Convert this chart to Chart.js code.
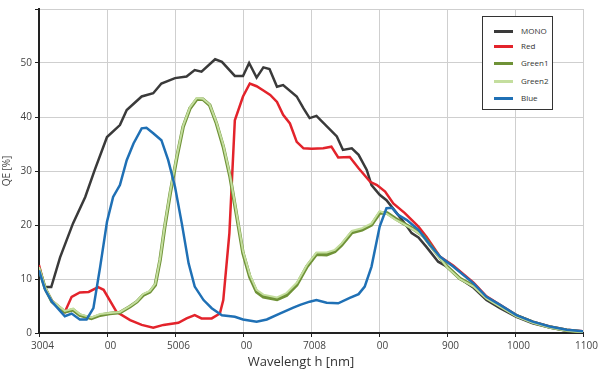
<!DOCTYPE html>
<html>
<head>
<meta charset="utf-8">
<script src="https://cdn.jsdelivr.net/npm/chart.js@4/dist/chart.umd.min.js"></script>
<style>
  body { margin: 0; background: #fff; font-family: "Open Sans", sans-serif; }
  #wrap { position: relative; width: 600px; height: 375px; }
  #legend { position: absolute; left: 482px; top: 16px; width: 69px; height: 92px;
            border: 1.5px solid #333; background: #fff; }
  .item { position: absolute; left: 0; height: 12px; font-size: 8px; color: #333; line-height: 12px; }
  .item span.sw { position: absolute; left: 11px; top: 5px; width: 19px; height: 3px; }
  .item span.tx { position: absolute; left: 38px; top: 0; white-space: nowrap; }
</style>
</head>
<body>
<div id="wrap">
  <canvas id="qe" width="600" height="375"></canvas>
  <div id="legend"></div>
</div>
<script>
// tick labels as printed under the x axis
var xTickLabels = ["3004", "00", "5006", "00", "7008", "00", "900", "1000", "1100"];
var xTickValues = [300, 400, 500, 600, 700, 800, 900, 1000, 1100];

var monoNm = [300,309,318,331,350,368,382,400,419,429,451,468,480,500,517,529,539,559,569,588,600,609,620,630,639,650,659,679,689,698,708,738,747,760,770,782,789,801,811,826,838,848,858,870,887,900,919,938,958,978,1002,1026,1051,1076,1100];
var monoQE = [11.7,8.5,8.5,14,20.3,25.2,30.2,36.3,38.5,41.3,43.8,44.4,46.2,47.2,47.5,48.7,48.4,50.7,50.2,47.6,47.6,50,47.3,49.2,48.9,45.6,45.9,43.8,41.6,39.8,40.2,36.4,33.9,34.2,33,30.2,27.4,25.6,24.6,22.2,20.3,18.5,17.7,15.9,13.2,12.3,10.1,8.5,6.1,4.6,3,1.8,1,0.4,0.2];

var redNm = [300,309,319,338,348,360,373,387,395,414,434,451,468,483,505,517,529,539,554,566,571,580,588,600,610,620,630,640,650,659,669,679,689,701,718,730,740,757,770,787,797,809,821,838,858,870,890,909,939,958,978,1002,1026,1051,1076,1100];
var redQE = [12.6,8.2,6,3.9,6.7,7.5,7.6,8.5,8,3.9,2.4,1.5,1,1.5,1.9,2.7,3.3,2.7,2.7,3.6,6.1,18.5,39.4,43.8,46.2,45.7,44.9,44.1,42.8,40.4,38.8,35.4,34.2,34.1,34.2,34.5,32.5,32.6,30.5,28,27.4,26.2,24,22.2,19.7,17.8,14.1,12.5,9.3,6.8,5.2,3.3,2.1,1.2,0.6,0.3];

var greenNm = [300,309,319,338,350,360,377,390,404,419,434,444,453,463,471,478,485,493,503,512,522,532,541,551,561,571,581,591,600,610,620,630,650,664,679,694,708,723,735,745,760,775,789,801,812,824,836,850,865,880,900,919,939,958,978,1002,1026,1051,1076,1100];
var green1QE = [12,8.3,5.8,3.9,4.3,3.3,2.7,3.3,3.6,3.8,4.9,5.8,7,7.6,8.9,13.5,19.7,25.9,32.7,38.2,41.6,43.3,43.3,42.2,38.8,34.5,28.9,21.5,14.8,10.4,7.6,6.7,6.2,7,8.9,12.3,14.6,14.5,15.1,16.3,18.6,19.1,20,22.2,22.2,21.2,20.3,19.3,18,15.5,12.3,10.1,8.7,6.5,5,3.2,2,1.1,0.5,0.2];
var green2QE = [12.2,8.5,6,4.1,4.5,3.5,2.9,3.5,3.7,3.9,5,5.9,7.2,7.8,9.1,13.7,20,26.2,33,38.4,41.8,43.5,43.4,42.3,39,34.8,29.2,21.8,15.2,10.8,8,7.1,6.6,7.4,9.3,12.6,14.9,14.9,15.4,16.6,18.9,19.4,20.3,22.6,22,21,20.2,19.2,17.9,15.4,12.2,10,8.6,6.4,4.9,3.1,1.9,1,0.4,0.2];

var blueNm = [300,309,319,338,348,360,370,380,390,400,409,419,429,439,451,458,468,480,490,500,510,520,529,542,554,569,588,600,620,635,654,674,684,698,708,723,740,757,770,779,789,801,811,819,828,841,858,875,890,909,939,958,978,1002,1026,1051,1076,1100];
var blueQE = [11.6,8,5.8,3.1,3.6,2.5,2.5,4.6,12.3,20.6,25.2,27.4,32,35.1,37.9,38,37,35.7,32,27.1,20.3,12.9,8.6,6.1,4.6,3.3,3,2.5,2.1,2.5,3.6,4.7,5.2,5.8,6.1,5.6,5.5,6.5,7.2,8.6,12.3,19.7,23.1,23.2,21.9,20.9,19.1,16.3,14.1,12.3,9.2,6.7,5.2,3.3,2.1,1.2,0.6,0.3];

function pts(xs, ys) {
  return xs.map(function(x, i) { return {x: x, y: ys[i]}; });
}

var series = [
  {label: "MONO",   nm: monoNm,  qe: monoQE,   color: "#3a3a3a", width: 2.5, order: 4},
  {label: "Red",    nm: redNm,   qe: redQE,    color: "#e3232b", width: 2.5, order: 3},
  {label: "Green1", nm: greenNm, qe: green1QE, color: "#6f9237", width: 3.5, order: 2},
  {label: "Green2", nm: greenNm, qe: green2QE, color: "#c4de9e", width: 2,   order: 1},
  {label: "Blue",   nm: blueNm,  qe: blueQE,   color: "#1f70b5", width: 2.5, order: 0}
];

var xTitle = {
  id: "xTitle",
  afterDraw: function(chart) {
    var c = chart.ctx;
    c.save();
    c.font = "13px 'Open Sans'";
    c.fillStyle = "#333";
    c.textAlign = "center";
    c.textBaseline = "middle";
    c.fillText("Wavelengt h [nm]", 301, 362);
    c.restore();
  }
};

new Chart(document.getElementById("qe"), {
  type: "line",
  data: {
    datasets: series.map(function(s) {
      return {
        label: s.label,
        data: pts(s.nm, s.qe),
        borderColor: s.color,
        backgroundColor: s.color,
        borderWidth: s.width,
        pointRadius: 0,
        tension: 0,
        fill: false,
        order: s.order
      };
    })
  },
  options: {
    responsive: false,
    animation: false,
    layout: { padding: { top: 9, right: 17, left: 0, bottom: 0 } },
    plugins: { legend: { display: false }, tooltip: { enabled: false } },
    scales: {
      x: {
        type: "linear",
        min: 300, max: 1100,
        afterBuildTicks: function(s) { s.ticks = xTickValues.map(function(v) { return {value: v}; }); },
        afterFit: function(s) { s.height = 42; },
        ticks: {
          color: "#444", font: { size: 10, family: "Open Sans" }, padding: 3, maxRotation: 0,
          labelOffset: 3.5,
          callback: function(v) { return xTickLabels[xTickValues.indexOf(v)]; }
        },
        grid: { color: "#cfcfcf", lineWidth: 1, tickColor: "#222", tickLength: 4 },
        border: { color: "#222", width: 2 }
      },
      y: {
        min: 0, max: 60,
        afterFit: function(s) { s.width = 39; },
        ticks: {
          stepSize: 10, color: "#444", font: { size: 10, family: "Open Sans" }, padding: 3,
          callback: function(v) { return v === 60 ? "" : v; }
        },
        grid: { color: "#cfcfcf", lineWidth: 1, tickColor: "#222", tickLength: 4 },
        border: { color: "#222", width: 2 },
        title: { display: true, text: "QE [%]", color: "#444", font: { size: 10, family: "Open Sans" }, padding: { top: 1, bottom: 0 } }
      }
    }
  },
  plugins: [xTitle]
});

// boxed legend in the upper right corner
var legend = document.getElementById("legend");
var rowTops = [8, 23, 40, 58, 75];
series.forEach(function(s, i) {
  var row = document.createElement("div");
  row.className = "item";
  row.style.top = rowTops[i] + "px";
  row.innerHTML = '<span class="sw" style="background:' + s.color + '"></span><span class="tx">' + s.label + '</span>';
  legend.appendChild(row);
});
</script>
</body>
</html>
